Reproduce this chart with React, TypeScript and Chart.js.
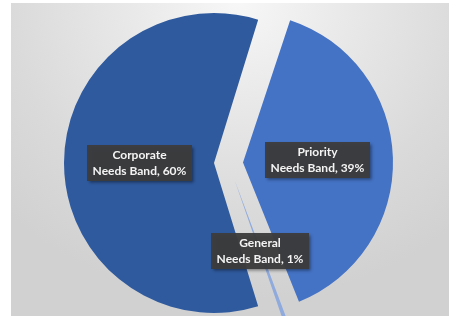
import React, { useEffect, useRef } from 'react';
import { Chart, registerables } from 'chart.js';

Chart.register(...registerables);

const categories = ['Priority Needs Band', 'General Needs Band', 'Corporate Needs Band'];
const values = [39, 1, 60];
const sliceColors = ['#4472C4', '#8FAADC', '#2F5A9E'];
const explodePx = [14.5, 18.5, 14.5];
const OFFSET_DIV = 4;
const PIE_RADIUS = 150;

// Chart.js grows an exploded arc's radius by offset * (1 - sin(circumference));
// undo that so every slice keeps the same visible radius.
const radiusFixPlugin = {
  id: 'radiusFix',
  afterDatasetUpdate(chart: any, args: any) {
    const meta = chart.getDatasetMeta(args.index);
    meta.data.forEach((arc: any, i: number) => {
      const c = arc.endAngle - arc.startAngle;
      const fix = 1 - Math.sin(Math.min(Math.PI, c));
      arc.outerRadius = PIE_RADIUS - explodePx[i] * fix;
    });
  },
};

const labelPlugin = {
  id: 'boxLabels',
  afterDatasetsDraw(chart: any) {
    const ctx = chart.ctx as CanvasRenderingContext2D;
    const meta = chart.getDatasetMeta(0);
    const total = values.reduce((a, b) => a + b, 0);
    ctx.save();
    ctx.font = 'bold 12px Lato';
    meta.data.forEach((arc: any, i: number) => {
      const { x, y, startAngle, endAngle } = arc.getProps(['x', 'y', 'startAngle', 'endAngle'], true);
      const mid = (startAngle + endAngle) / 2;
      const d = explodePx[i] + PIE_RADIUS * 0.5;
      const cx = x + Math.cos(mid) * d;
      const cy = y + Math.sin(mid) * d;
      const name = categories[i];
      const sp = name.indexOf(' ');
      const l1 = name.slice(0, sp);
      const l2 = name.slice(sp + 1) + ', ' + Math.round((values[i] / total) * 100) + '%';
      const w = Math.round(Math.max(ctx.measureText(l1).width, ctx.measureText(l2).width) + 11);
      const h = 36;
      const bx = Math.round(cx - w / 2);
      const by = Math.round(cy - h / 2);
      ctx.save();
      ctx.shadowColor = 'rgba(0,0,0,0.45)';
      ctx.shadowBlur = 3;
      ctx.shadowOffsetX = 1.5;
      ctx.shadowOffsetY = 1.5;
      ctx.fillStyle = 'rgba(60,60,60,0.95)';
      ctx.fillRect(bx, by, w, h);
      ctx.restore();
      ctx.fillStyle = '#f4f4f4';
      ctx.textAlign = 'center';
      ctx.textBaseline = 'middle';
      ctx.fillText(l1, bx + w / 2, by + 10.5);
      ctx.fillText(l2, bx + w / 2, by + 26.5);
    });
    ctx.restore();
  },
};

export default function App() {
  const ref = useRef<HTMLCanvasElement | null>(null);
  useEffect(() => {
    if (!ref.current) return;
    const chart = new Chart(ref.current, {
      type: 'pie',
      data: {
        labels: categories,
        datasets: [
          {
            data: values,
            backgroundColor: sliceColors,
            borderWidth: 0,
            offset: explodePx.map((p) => p * OFFSET_DIV),
            hoverOffset: 0,
          },
        ],
      },
      options: {
        responsive: false,
        animation: false,
        rotation: 18,
        radius: PIE_RADIUS,
        layout: { padding: 0 },
        events: [],
        plugins: {
          legend: { display: false },
          tooltip: { enabled: false },
          title: { display: false },
        },
      },
      plugins: [radiusFixPlugin, labelPlugin],
    } as any);
    return () => chart.destroy();
  }, []);

  return (
    <div
      style={{
        position: 'fixed',
        left: 0,
        top: 0,
        width: 449,
        height: 316,
        background: '#ffffff',
        overflow: 'hidden',
      }}
    >
      <div
        style={{
          position: 'absolute',
          left: 11,
          top: 3,
          width: 438,
          height: 313,
          overflow: 'hidden',
          background:
            'radial-gradient(ellipse 75% 95% at 52% 0%, #f7f7f7 0%, #e8e8e8 35%, #dadada 70%, #d1d1d1 100%)',
        }}
      >
        <canvas
          ref={ref}
          width={435}
          height={320}
          style={{ position: 'absolute', left: 0, top: 0, width: 435, height: 320 }}
        />
      </div>
    </div>
  );
}
